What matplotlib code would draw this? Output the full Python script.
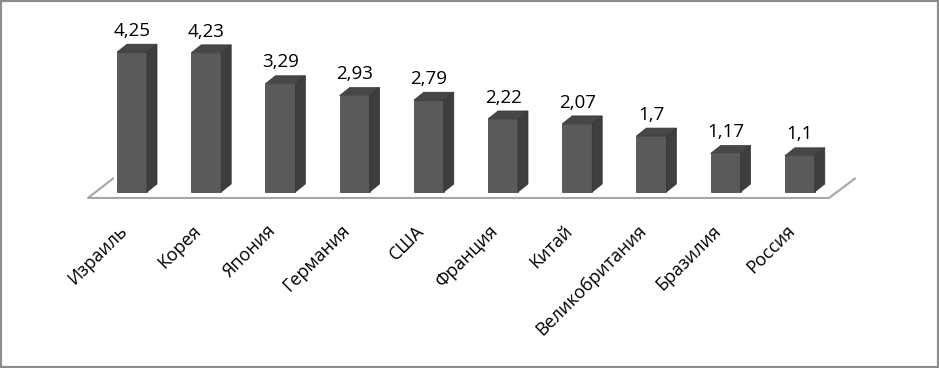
import matplotlib.pyplot as plt
from matplotlib.patches import Rectangle, Polygon

# datos del grafico
paises = ["Израиль", "Корея", "Япония", "Германия", "США", "Франция",
          "Китай", "Великобритания", "Бразилия", "Россия"]
valores = [4.25, 4.23, 3.29, 2.93, 2.79, 2.22, 2.07, 1.7, 1.17, 1.1]
etiquetas = ["4,25", "4,23", "3,29", "2,93", "2,79", "2,22", "2,07", "1,7", "1,17", "1,1"]

plt.rcParams['font.family'] = ['Open Sans', 'DejaVu Sans']

fig = plt.figure(figsize=(9.39, 3.68), dpi=100)
ax = fig.add_axes([0, 0, 1, 1])
ax.set_xlim(-1.779, 10.876)
ax.set_ylim(-5.35, 5.836)
ax.axis('off')

# efecto 3D: ancho de barra y profundidad
w = 0.404
dx = 0.135
dy = 0.243

# suelo (solo lineas)
ax.plot([-0.256, -0.593, 9.393, 9.744], [0.41, -0.182, -0.182, 0.41],
        color="#a6a6a6", linewidth=1.5, zorder=1)

for i, v in enumerate(valores):
    x0 = i - w / 2
    x1 = i + w / 2
    frente = Rectangle((x0, 0), w, v, facecolor="#5a5a5a", edgecolor="#3a3a3a",
                       linewidth=0.5, zorder=3)
    lado = Polygon([(x1, 0), (x1 + dx, dy), (x1 + dx, v + dy), (x1, v)],
                   facecolor="#3e3e3e", edgecolor="#333333", linewidth=0.5, zorder=3)
    tapa = Polygon([(x0, v), (x1, v), (x1 + dx, v + dy), (x0 + dx, v + dy)],
                   facecolor="#474747", edgecolor="#333333", linewidth=0.5, zorder=3)
    ax.add_patch(frente)
    ax.add_patch(lado)
    ax.add_patch(tapa)
    ax.annotate(etiquetas[i], (i, v + dy), xytext=(0, 6), textcoords="offset points",
                ha="center", va="baseline", fontsize=13.5, color="black")
    ax.text(i - 0.19, -0.9, paises[i], rotation=45, rotation_mode="anchor",
            ha="right", va="top", fontsize=13, color="black")

# marco gris alrededor de la figura
fig.patches.append(Rectangle((0, 0), 1, 1, transform=fig.transFigure, fill=False,
                             edgecolor="#8c8c8c", linewidth=3))

fig.savefig("out.png", dpi=100)
